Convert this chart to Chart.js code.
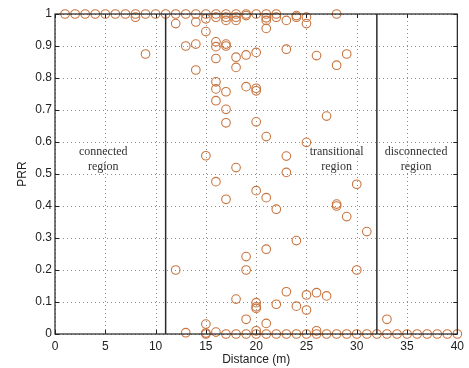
<!DOCTYPE html>
<html>
<head>
<meta charset="utf-8">
<script src="https://cdn.jsdelivr.net/npm/chart.js@4.4.0/dist/chart.umd.min.js"></script>
<style>
  html, body { margin: 0; padding: 0; background: #fff; }
  #wrap { width: 469px; height: 368px; }
</style>
</head>
<body>
<div id="wrap"><canvas id="prrChart" width="469" height="368"></canvas></div>
<script>
const distances = [1, 2, 3, 4, 5, 6, 7, 8, 9, 10, 11, 12, 13, 14, 15, 16, 17, 18, 19, 20,
                   21, 22, 23, 24, 25, 26, 27, 28, 29, 30, 31, 32, 33, 34, 35, 36, 37, 38, 39, 40];

// PRR samples measured at each distance (same order as distances)
const prrValues = [
    [1], [1], [1], [1], [1], [1], [1],
    [1, 0.99],
    [1, 0.875],
    [1],
    [1],
    [1, 0.97, 0.2],
    [1, 0.9, 0.004],
    [1, 0.975, 0.906, 0.825],
    [1, 0.985, 0.945, 0.557, 0.031, 0.003, 0],
    [1, 0.99, 0.913, 0.898, 0.861, 0.788, 0.766, 0.729, 0.476, 0.006],
    [1, 0.99, 0.98, 0.906, 0.9, 0.757, 0.702, 0.66, 0.421, 0],
    [1, 0.99, 0.98, 0.865, 0.833, 0.52, 0.109, 0],
    [1, 0.995, 0.872, 0.773, 0.242, 0.2, 0.046, 0],
    [1, 0.88, 0.768, 0.76, 0.663, 0.448, 0.098, 0.085, 0.08, 0.01, 0],
    [1, 0.988, 0.98, 0.955, 0.617, 0.426, 0.265, 0.033, 0],
    [1, 0.99, 0.39, 0.093, 0],
    [0.98, 0.89, 0.556, 0.505, 0.132, 0],
    [0.995, 0.99, 0.292, 0.087, 0],
    [0.99, 0.97, 0.599, 0.122, 0.075, 0],
    [0.87, 0.129, 0.01, 0],
    [0.681, 0.119, 0],
    [1, 0.84, 0.406, 0.4, 0],
    [0.875, 0.367, 0],
    [0.468, 0.2, 0],
    [0.32, 0],
    [0],
    [0.046, 0],
    [0], [0], [0], [0], [0], [0], [0]
];

const regionBounds = [11, 32];
const regionLabels = [['connected', 'region'], ['transitional', 'region'], ['disconnected', 'region']];
const regionLabelX = [4.8, 28, 35.9];
const regionLabelY = 0.545;

const xTicks = [0, 5, 10, 15, 20, 25, 30, 35, 40];
const yTicks = [0, 0.1, 0.2, 0.3, 0.4, 0.5, 0.6, 0.7, 0.8, 0.9, 1];

const MARKER_COLOR = '#c8743f';
const TICK_LEN = 4;

const points = [];
distances.forEach((d, i) => {
    prrValues[i].forEach(v => points.push({ x: d, y: v }));
});

const boundDatasets = regionBounds.map(b => ({
    type: 'line',
    data: [{ x: b, y: 0 }, { x: b, y: 1 }],
    borderColor: '#2b2b2b',
    borderWidth: 1.5,
    pointRadius: 0,
    fill: false,
    clip: false
}));

// dotted matlab-style grid, drawn by hand so the dash is reliable
const gridPlugin = {
    id: 'dottedGrid',
    beforeDatasetsDraw(chart) {
        const { ctx, chartArea: a, scales } = chart;
        ctx.save();
        ctx.strokeStyle = '#8c8c8c';
        ctx.lineWidth = 1;
        ctx.setLineDash([1, 3]);
        xTicks.forEach(v => {
            const px = Math.round(scales.x.getPixelForValue(v)) + 0.5;
            ctx.beginPath();
            ctx.moveTo(px, a.bottom);
            ctx.lineTo(px, a.top);
            ctx.stroke();
        });
        yTicks.forEach(v => {
            const py = Math.round(scales.y.getPixelForValue(v)) + 0.5;
            ctx.beginPath();
            ctx.moveTo(a.left, py);
            ctx.lineTo(a.right, py);
            ctx.stroke();
        });
        ctx.restore();
    }
};

const framePlugin = {
    id: 'frameAndText',
    afterDatasetsDraw(chart) {
        const { ctx, chartArea: a, scales } = chart;
        ctx.save();
        ctx.strokeStyle = '#222';
        ctx.lineWidth = 1.2;
        ctx.strokeRect(a.left, a.top, a.right - a.left, a.bottom - a.top);

        // inward tick marks on all four sides
        ctx.lineWidth = 1;
        ctx.beginPath();
        xTicks.forEach(v => {
            const px = Math.round(scales.x.getPixelForValue(v)) + 0.5;
            ctx.moveTo(px, a.bottom); ctx.lineTo(px, a.bottom - TICK_LEN);
            ctx.moveTo(px, a.top); ctx.lineTo(px, a.top + TICK_LEN);
        });
        yTicks.forEach(v => {
            const py = Math.round(scales.y.getPixelForValue(v)) + 0.5;
            ctx.moveTo(a.left, py); ctx.lineTo(a.left + TICK_LEN, py);
            ctx.moveTo(a.right, py); ctx.lineTo(a.right - TICK_LEN, py);
        });
        ctx.stroke();

        ctx.fillStyle = '#333';
        ctx.font = '12px "Liberation Serif", "DejaVu Serif", serif';
        ctx.textAlign = 'center';
        ctx.textBaseline = 'middle';
        const yc = scales.y.getPixelForValue(regionLabelY);
        regionLabels.forEach((lines, i) => {
            const xc = scales.x.getPixelForValue(regionLabelX[i]);
            lines.forEach((t, j) => {
                ctx.fillText(t, xc, yc + (j - (lines.length - 1) / 2) * 15);
            });
        });
        ctx.restore();
    }
};

const tickFont = { family: '"Liberation Sans", Arial, sans-serif', size: 12 };

new Chart(document.getElementById('prrChart').getContext('2d'), {
    type: 'scatter',
    data: {
        datasets: [
            ...boundDatasets,
            {
                label: 'PRR',
                data: points,
                pointStyle: 'circle',
                pointRadius: 4.3,
                pointBorderWidth: 1.1,
                pointBorderColor: MARKER_COLOR,
                pointBackgroundColor: 'rgba(0,0,0,0)',
                showLine: false,
                clip: false
            }
        ]
    },
    options: {
        responsive: false,
        animation: false,
        layout: { padding: { top: 14, right: 7, left: 0, bottom: 0 } },
        plugins: {
            legend: { display: false },
            tooltip: { enabled: false }
        },
        scales: {
            x: {
                type: 'linear',
                min: 0,
                max: 40,
                afterBuildTicks: (axis) => { axis.ticks = xTicks.map(v => ({ value: v })); },
                afterFit: (axis) => { axis.height = 34; },
                grid: { display: false, drawTicks: false },
                border: { display: false },
                ticks: { color: '#222', font: tickFont, padding: 5, maxRotation: 0 },
                title: {
                    display: true,
                    text: 'Distance (m)',
                    color: '#222',
                    font: tickFont,
                    padding: { top: 0, bottom: 1 }
                }
            },
            y: {
                type: 'linear',
                min: 0,
                max: 1,
                afterBuildTicks: (axis) => { axis.ticks = yTicks.map(v => ({ value: v })); },
                afterFit: (axis) => { axis.width = 55; },
                grid: { display: false, drawTicks: false },
                border: { display: false },
                ticks: {
                    color: '#222',
                    font: tickFont,
                    padding: 3,
                    callback: (v) => String(+v.toFixed(1))
                },
                title: {
                    display: true,
                    text: 'PRR',
                    color: '#222',
                    font: tickFont,
                    padding: { top: 15, bottom: 0 }
                }
            }
        }
    },
    plugins: [gridPlugin, framePlugin]
});
</script>
</body>
</html>
